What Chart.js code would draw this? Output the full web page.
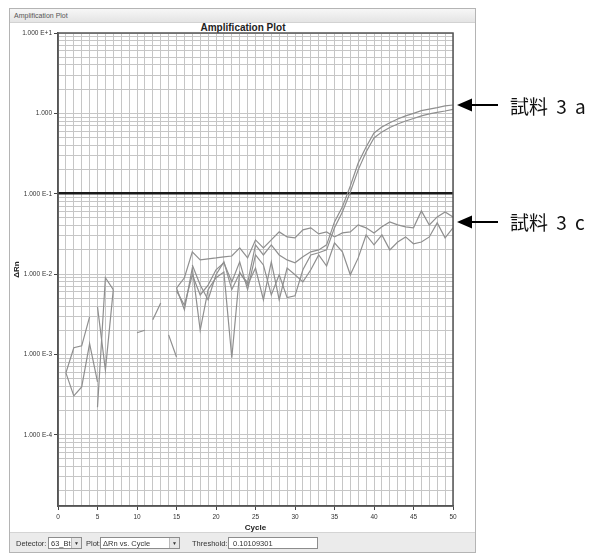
<!DOCTYPE html>
<html>
<head>
<meta charset="utf-8">
<script src="https://cdn.jsdelivr.net/npm/chart.js@4/dist/chart.umd.min.js"></script>
<style>
body { margin: 0; background: #fff; font-family: "Liberation Sans", Arial, sans-serif; }
#wrap { position: relative; width: 590px; height: 555px; overflow: hidden; }
#win { position: absolute; left: 9px; top: 8px; width: 467px; height: 545px; border: 1px solid #b4b4b4; box-sizing: border-box; background: #fff; }
#hdr { position: absolute; left: 0; top: 0; right: 0; height: 13px; background: linear-gradient(#f7f7f7, #e4e4e4); border-bottom: 1px solid #d2d2d2; font-size: 7px; color: #555; padding-left: 4px; line-height: 13px; }
#bar { position: absolute; left: 0; right: 0; bottom: 0; height: 19px; background: #ebebeb; border-top: 1px solid #d4d4d4; }
#chart { position: absolute; left: 0; top: 0; }
.t { position: absolute; font-size: 7.5px; color: #333; white-space: nowrap; }
.box { position: absolute; height: 12px; border: 1px solid #8c8c8c; background: #fff; font-size: 7.5px; line-height: 12px; padding-left: 2px; box-sizing: border-box; color: #333; white-space: nowrap; }
.dd { position: absolute; right: 0; top: 0; width: 9px; height: 10px; background: #e6e6e6; border-left: 1px solid #bbb; font-size: 5px; text-align: center; line-height: 10px; color: #333; }
#title { position: absolute; left: 193px; width: 100px; top: 22px; text-align: center; font-size: 10px; font-weight: bold; color: #222; }
.lbl { position: absolute; font-family: "Noto Sans CJK JP", sans-serif; font-size: 19px; color: #111; word-spacing: 4px; white-space: nowrap; line-height: 1; }
svg { position: absolute; left: 0; top: 0; }
</style>
</head>
<body>
<div id="wrap">
  <div id="win">
    <div id="hdr">Amplification Plot</div>
    <div id="bar"></div>
  </div>
  <div id="title">Amplification Plot</div>
  <canvas id="chart" width="480" height="555"></canvas>

  <div class="t" style="left:16px;top:539px;">Detector:</div>
  <div class="box" style="left:48px;top:537px;width:34px;">63_Bt<div class="dd">&#9660;</div></div>
  <div class="t" style="left:86px;top:539px;">Plot:</div>
  <div class="box" style="left:100px;top:537px;width:80px;">&Delta;Rn vs. Cycle<div class="dd">&#9660;</div></div>
  <div class="t" style="left:192px;top:539px;">Threshold:</div>
  <div class="box" style="left:228px;top:537px;width:90px;padding-left:4px;">0.10109301</div>

  <svg width="590" height="555">
    <line x1="470" y1="105" x2="498" y2="105" stroke="#000" stroke-width="2"/>
    <polygon points="457,105 472,98.5 472,111.5" fill="#000"/>
    <line x1="470" y1="222" x2="498" y2="222" stroke="#000" stroke-width="2"/>
    <polygon points="457,222 472,215.5 472,228.5" fill="#000"/>
  </svg>
  <div class="lbl" style="left:510px;top:96px;">試料 3 a</div>
  <div class="lbl" style="left:510px;top:212px;">試料 3 c</div>
</div>

<script>
const cycles = [1, 2, 3, 4, 5, 6, 7, 8, 9, 10, 11, 12, 13, 14, 15, 16, 17, 18, 19, 20,
  21, 22, 23, 24, 25, 26, 27, 28, 29, 30, 31, 32, 33, 34, 35, 36, 37, 38, 39, 40,
  41, 42, 43, 44, 45, 46, 47, 48, 49, 50];

// sample 3a, two wells
const sample3a_1 = [5.9e-4, 1.21e-3, 1.28e-3, 2.94e-3, null, null, null, null, null, null,
  null, null, null, 1.75e-3, 9.3e-4, null, 0.0130, 0.0073, 0.0048, 0.0098,
  0.0142, 0.0064, 0.0103, 0.0078, 0.0231, 0.0173, 0.0231, 0.0173, 0.0150, 0.0138,
  0.0164, 0.0189, 0.0200, 0.0231, 0.0446, 0.0686, 0.125, 0.241, 0.382, 0.570,
  0.677, 0.766, 0.852, 0.929, 1.00, 1.08, 1.13, 1.18, 1.24, 1.27];
const sample3a_2 = [5.9e-4, 3.05e-4, 3.95e-4, 1.36e-3, 4.56e-4, null, null, null, null, 1.86e-3,
  2.0e-3, null, null, null, 6.18e-3, 0.0041, 0.0098, 0.0055, 0.0073, 0.0113,
  0.0138, 0.0080, 0.0142, 0.0064, 0.0173, 0.0130, 0.0055, 0.0098, 0.0051, 0.00536,
  0.0113, 0.0173, 0.0184, 0.0200, 0.0376, 0.0594, 0.105, 0.198, 0.331, 0.494,
  0.588, 0.668, 0.738, 0.804, 0.864, 0.929, 0.983, 1.03, 1.07, 1.12];

// sample 3c, two wells
const sample3c_1 = [null, null, null, null, 3.9e-3, 6.4e-4, 6.4e-3, null, null, null,
  null, 2.7e-3, 4.38e-3, null, 0.0067, 0.0090, 0.0189, 0.0150, 0.0155, 0.0159,
  0.0164, 0.0168, 0.0212, 0.0159, 0.0266, 0.0212, 0.0266, 0.0335, 0.0290, 0.0282,
  0.0355, 0.0376, 0.0316, 0.0335, 0.0290, 0.0325, 0.0335, 0.0409, 0.0376, 0.0325,
  0.0387, 0.0446, 0.0409, 0.0387, 0.0376, 0.0611, 0.0409, 0.0514, 0.0594, 0.0514];
const sample3c_2 = [null, null, null, null, 2.2e-4, 9.0e-3, 6.4e-3, null, null, null,
  null, null, null, null, 0.0067, 0.0036, 0.0119, 0.0020, 0.0064, 0.0090,
  0.0106, 0.00091, 0.0106, 0.0073, 0.0119, 0.0048, 0.0142, 0.0048, 0.0119, 0.0098,
  0.0080, 0.0113, 0.0173, 0.0126, 0.0244, 0.0189, 0.0098, 0.0159, 0.0307, 0.0231,
  0.0307, 0.0200, 0.0251, 0.0290, 0.0238, 0.0251, 0.0290, 0.0434, 0.0282, 0.0376];

const threshold = 0.10109301;

const xTickLabels = [0, 5, 10, 15, 20, 25, 30, 35, 40, 45, 50];
const yTickValues = [1e-4, 1e-3, 1e-2, 1e-1, 1, 10];
const yTickLabels = ['1.000 E-4', '1.000 E-3', '1.000 E-2', '1.000 E-1', '1.000', '1.000 E+1'];

const toPoints = arr => cycles.map((c, i) => ({x: c, y: arr[i]}));

const lineStyle = {
  borderColor: '#8f8f8f',
  borderWidth: 1.2,
  pointRadius: 0,
  tension: 0,
  spanGaps: false,
  fill: false
};

const frame = {
  id: 'frame',
  afterDatasetsDraw(chart) {
    const a = chart.chartArea;
    const c = chart.ctx;
    c.save();
    c.strokeStyle = '#555';
    c.lineWidth = 1.5;
    c.strokeRect(a.left, a.top, a.right - a.left, a.bottom - a.top);
    c.restore();
  }
};

Chart.defaults.font.family = '"Liberation Sans", Arial, sans-serif';

new Chart(document.getElementById('chart'), {
  type: 'line',
  data: {
    datasets: [
      {label: '3a-1', data: toPoints(sample3a_1), ...lineStyle},
      {label: '3a-2', data: toPoints(sample3a_2), ...lineStyle},
      {label: '3c-1', data: toPoints(sample3c_1), ...lineStyle},
      {label: '3c-2', data: toPoints(sample3c_2), ...lineStyle},
      {label: 'Threshold', data: [{x: 0, y: threshold}, {x: 50, y: threshold}],
        borderColor: '#1a1a1a', borderWidth: 2.5, pointRadius: 0}
    ]
  },
  options: {
    responsive: false,
    animation: false,
    devicePixelRatio: 1,
    layout: {padding: {left: 0, top: 33, right: 27, bottom: 19}},
    plugins: {
      legend: {display: false},
      tooltip: {enabled: false}
    },
    scales: {
      x: {
        type: 'linear',
        min: 0,
        max: 50,
        afterFit: s => { s.height = 30; },
        grid: {
          color: '#c6c6c6',
          lineWidth: 1,
          tickLength: 4,
          tickColor: ctx => (ctx.tick && ctx.tick.label) ? '#444' : 'rgba(0,0,0,0)'
        },
        border: {display: true, color: '#555', width: 1.5},
        ticks: {
          stepSize: 1,
          autoSkip: false,
          maxRotation: 0,
          padding: 3,
          color: '#333',
          font: {size: 6.5},
          callback: v => xTickLabels.includes(v) ? String(v) : ''
        },
        title: {display: true, text: 'Cycle', color: '#222', font: {size: 8, weight: 'bold'}, padding: {top: 0, bottom: 3}}
      },
      y: {
        type: 'logarithmic',
        min: 1.3e-5,
        max: 10,
        afterFit: s => { s.width = 58; },
        afterBuildTicks: scale => {
          const t = [];
          for (let e = -5; e <= 0; e++) {
            for (let k = 1; k <= 9; k++) {
              const v = +(k * Math.pow(10, e)).toPrecision(6);
              if (v >= scale.min) t.push({value: v});
            }
          }
          t.push({value: 10});
          scale.ticks = t;
        },
        grid: {
          color: '#c6c6c6',
          lineWidth: 1,
          tickLength: 4,
          tickColor: ctx => (ctx.tick && ctx.tick.label) ? '#444' : 'rgba(0,0,0,0)'
        },
        border: {display: true, color: '#555', width: 1.5},
        ticks: {
          autoSkip: false,
          padding: 2,
          color: '#333',
          font: {size: 6.5},
          callback: v => {
            const i = yTickValues.findIndex(tv => Math.abs(Math.log10(v / tv)) < 1e-6);
            return i >= 0 ? yTickLabels[i] : '';
          }
        },
        title: {display: true, text: 'ΔRn', color: '#222', font: {size: 8, weight: 'bold'}, padding: {top: 12, bottom: 0}}
      }
    }
  },
  plugins: [frame]
});
</script>
</body>
</html>
